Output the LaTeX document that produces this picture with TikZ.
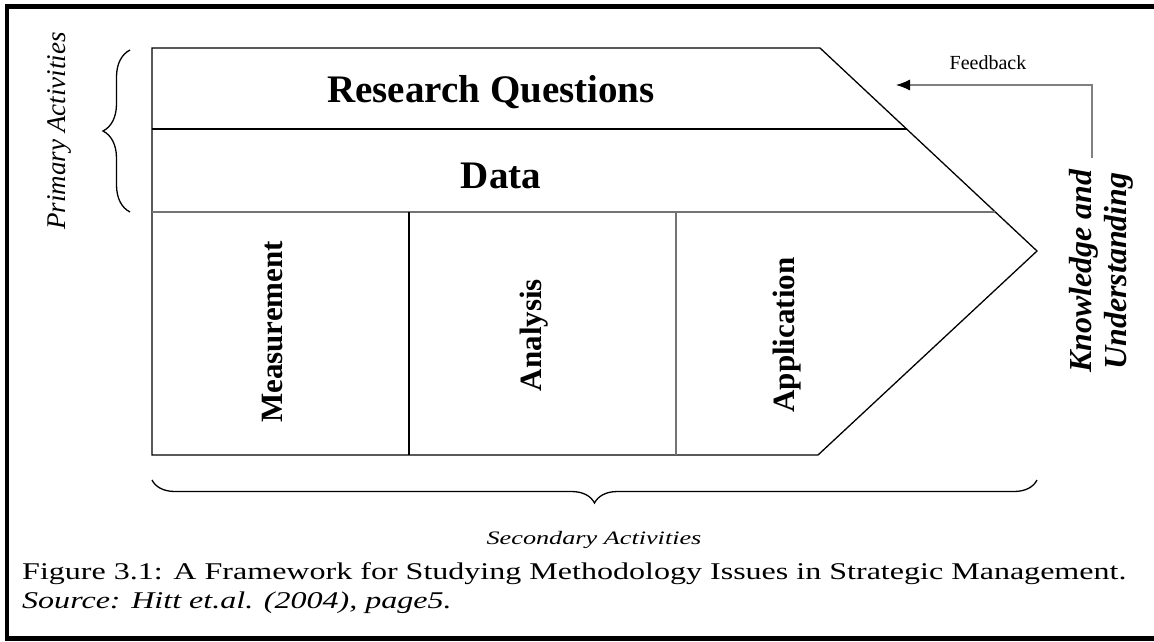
\documentclass[tikz,border=0pt]{standalone}
\usepackage{fontspec}
\setmainfont{Liberation Serif}
\usetikzlibrary{decorations.pathreplacing,arrows.meta}
\begin{document}
\begin{tikzpicture}[x=1pt,y=-1pt,
  outline/.style={line width=1.3pt, black},
  greyline/.style={line width=1.2pt, black!55},
  bracestyle/.style={line width=1.3pt, decorate, decoration={brace, amplitude=#1}},
  boldlbl/.style={font=\fontsize{39}{41}\selectfont\bfseries, inner sep=0pt, anchor=base},
  rotlbl/.style={font=\fontsize{31}{33}\selectfont\bfseries, inner sep=0pt, anchor=base, rotate=90},
  note/.style={font=\fontsize{27}{29}\selectfont\itshape, inner sep=0pt},
  capt/.style={font=\fontsize{24}{29}\selectfont, inner sep=0pt, anchor=base west},
  fb/.style={draw=black!50, line width=1.1pt, -{Latex[length=14pt,width=11pt,color=black]}}
]
\useasboundingbox (0,0) rectangle (1154,641);
% outer frame
\draw[line width=4.5pt, line join=miter] (1154,6.5) -- (7,6.5) -- (7,638.5) -- (1154,638.5);

% main pentagon
\coordinate (tl) at (152,48);
\coordinate (tr) at (820,48);
\coordinate (tip) at (1037,251);
\coordinate (br) at (818,455);
\coordinate (bl) at (152,455);
\draw[outline] (tl) -- (tr) -- (tip) -- (br) -- (bl) -- cycle;

\coordinate (m1l) at (152,129);
\coordinate (m1r) at (906.5,129);
\coordinate (m2l) at (152,212);
\coordinate (m2r) at (995,212);
\draw[outline] (m1l) -- (m1r);
\draw[greyline] (m2l) -- (m2r);

\coordinate (v1t) at (409,212);
\coordinate (v1b) at (409,455);
\coordinate (v2t) at (676,212);
\coordinate (v2b) at (676,455);
\draw[outline] (v1t) -- (v1b);
\draw[greyline] (v2t) -- (v2b);

% labels
\node[boldlbl] (rq) at (491,102) {Research Questions};
\node[boldlbl] (data) at (501,188) {Data};
\node[rotlbl] (meas) at (282,332) {Measurement};
\node[rotlbl] (anal) at (541,335) {Analysis};
\node[rotlbl] (appl) at (794,335) {Application};
\node[font=\fontsize{32}{35}\selectfont\bfseries\itshape, rotate=90, align=center, inner sep=0pt] (ku) at (1101,271) {Knowledge and\\Understanding};

% feedback
\node[font=\fontsize{20}{22}\selectfont, inner sep=0pt, anchor=base] (fbl) at (988,69) {Feedback};
\coordinate (fbs) at (1092,158);
\coordinate (fbe) at (896,85);
\draw[fb] (fbs) |- (fbe);

% braces
\draw[bracestyle=27pt] (130,212) -- (130,50);
\node[note, rotate=90, anchor=base] (pa) at (65,131) {Primary Activities};
\draw[bracestyle=23pt] (1037,480) -- (152,480);
\node[font=\fontsize{19}{21}\selectfont\itshape, inner sep=0pt, anchor=base] (sa) at (594,544) {\scalebox{1.38}[1]{Secondary Activities}};

% caption
\node[capt] (cap1) at (22,579) {\scalebox{1.335}[1]{Figure 3.1: A Framework for Studying Methodology Issues in Strategic Management.}};
\node[capt, font=\fontsize{24}{29}\selectfont\itshape] (cap2) at (22,608) {\scalebox{1.335}[1]{Source: Hitt et.al. (2004), page5.}};
\end{tikzpicture}
\end{document}
